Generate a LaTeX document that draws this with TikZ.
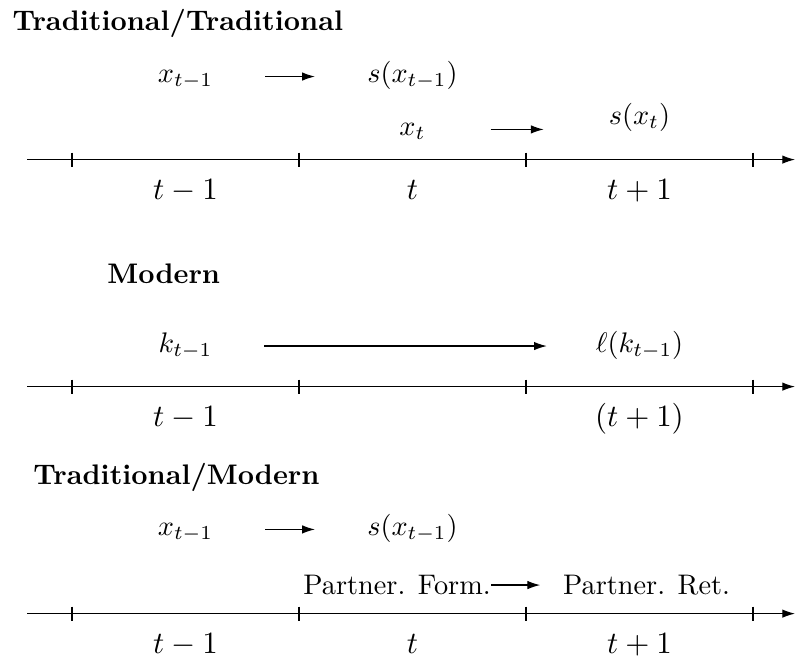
\documentclass[tikz,border=0pt]{standalone}
\usetikzlibrary{arrows.meta}
\tikzset{
  >={Latex[length=4.5pt,width=3pt]},
  timeline/.style={->,line width=0.4pt},
  tickmark/.style={line width=0.4pt},
  paneltitle/.style={font=\bfseries,anchor=base west,inner sep=0pt},
  term/.style={anchor=base,inner sep=3.33pt},
  steplabel/.style={anchor=base,inner sep=0pt,font=\fontsize{10.95}{13}\selectfont},
  flow/.style={->,line width=0.4pt},
}

\begin{document}
\begin{tikzpicture}[x=2.82cm,y=2.82cm]
  \useasboundingbox (-0.317,-2.192) rectangle (3.185,0.703);

  % ---- three time lines with period ticks ----
  \foreach \row/\y in {1/0,2/-1,3/-2} {
    \coordinate (ax\row s) at (-0.198,\y);
    \coordinate (ax\row e) at (3.185,\y);
    \draw[timeline] (ax\row s) -- (ax\row e);
    \foreach \i in {0,...,3}
      \draw[tickmark] ([yshift=2.5pt]\i,\y) -- ([yshift=-2.5pt]\i,\y);
  }

  % ---- Traditional/Traditional ----
  \node[paneltitle] (ttl1) at (-0.264,0.568) {Traditional/Traditional};
  \node[term] (xa) at (0.5,0.339) {$x_{t-1}$};
  \node[term] (sxa) at (1.5,0.339) {$s(x_{t-1})$};
  \node[term] (xb) at (1.5,0.106) {$x_t$};
  \node[term] (sxb) at (2.5,0.154) {$s(x_t)$};
  \draw[flow,shorten <=15pt,shorten >=15pt] (xa.mid east) -- (xa.mid east -| sxa.west);
  \draw[flow,shorten <=19.5pt,shorten >=19.5pt] (xb.mid east) -- (xb.mid east -| sxb.west);
  \node[steplabel] (ta1) at (0.5,-0.176) {$t-1$};
  \node[steplabel] (ta2) at (1.5,-0.176) {$t$};
  \node[steplabel] (ta3) at (2.5,-0.176) {$t+1$};

  % ---- Modern ----
  \node[paneltitle] (ttl2) at (0.154,-0.546) {Modern};
  \node[term] (ka) at (0.5,-0.85) {$k_{t-1}$};
  \node[term] (lka) at (2.5,-0.85) {$\ell(k_{t-1})$};
  \draw[flow,shorten <=14.8pt,shorten >=13.8pt] (ka.east) -- (ka.east -| lka.west);
  \node[steplabel] (tb1) at (0.5,-1.176) {$t-1$};
  \node[steplabel] (tb3) at (2.5,-1.176) {$(t+1)$};

  % ---- Traditional/Modern ----
  \node[paneltitle] (ttl3) at (-0.172,-1.432) {Traditional/Modern};
  \node[term] (xc) at (0.5,-1.656) {$x_{t-1}$};
  \node[term] (sxc) at (1.5,-1.656) {$s(x_{t-1})$};
  \draw[flow,shorten <=15pt,shorten >=15pt] (xc.mid east) -- (xc.mid east -| sxc.west);
  \node[term] (pform) at (1.432,-1.916) {Partner. Form.};
  \node[term] (pret) at (2.531,-1.916) {Partner. Ret.};
  \draw[flow,shorten <=-3.3pt,shorten >=4.6pt] (pform.east) -- (pform.east -| pret.west);
  \node[steplabel] (tc1) at (0.5,-2.176) {$t-1$};
  \node[steplabel] (tc2) at (1.5,-2.176) {$t$};
  \node[steplabel] (tc3) at (2.5,-2.176) {$t+1$};
\end{tikzpicture}
\end{document}
